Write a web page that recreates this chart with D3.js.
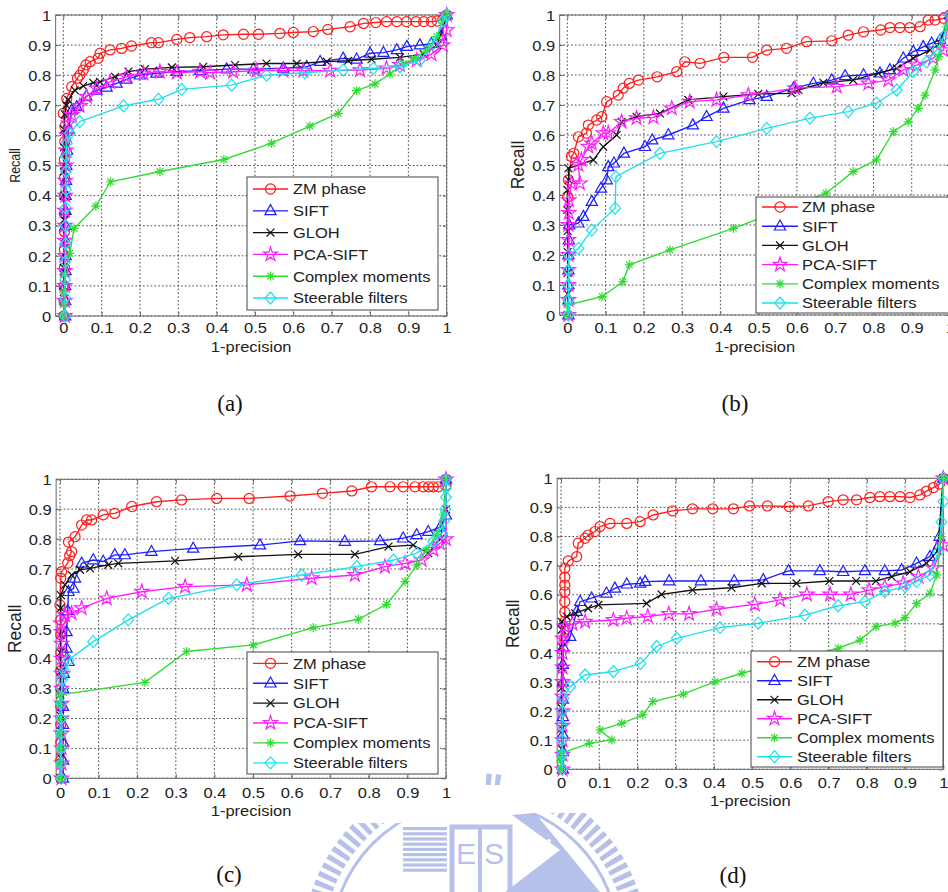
<!DOCTYPE html>
<html><head><meta charset="utf-8">
<script src="https://cdn.jsdelivr.net/npm/d3@7"></script>
<style>
html,body{margin:0;padding:0;background:#fff;}
svg{display:block;}
text{font-family:"Liberation Sans",Arial,sans-serif;fill:#222;}
</style></head><body>
<svg id="fig" width="948" height="892"></svg>
<script>
// ---------- series values: [1-precision, recall] ----------
// (a)
const zmA = [[0.002,0],[0.002,0.05],[0.002,0.1],[0.003,0.16],[0.003,0.22],[0.003,0.28],[0.003,0.34],[0.003,0.4],[0.003,0.46],[0.003,0.52],[0.004,0.58],[0.004,0.63],[0,0.673],[0.009,0.723],[0.022,0.762],[0.037,0.79],[0.043,0.8],[0.052,0.817],[0.059,0.834],[0.07,0.845],[0.091,0.856],[0.096,0.873],[0.122,0.884],[0.152,0.889],[0.178,0.897],[0.23,0.908],[0.248,0.908],[0.296,0.919],[0.33,0.925],[0.374,0.928],[0.417,0.934],[0.47,0.936],[0.509,0.936],[0.565,0.939],[0.6,0.942],[0.652,0.945],[0.69,0.952],[0.748,0.961],[0.783,0.972],[0.815,0.975],[0.843,0.978],[0.87,0.978],[0.895,0.978],[0.92,0.978],[0.94,0.978],[0.96,0.978],[0.975,0.98],[0.99,0.985],[1,1]];
const siftA = [[0.005,0],[0.005,0.05],[0.005,0.1],[0.006,0.15],[0.006,0.2],[0.006,0.25],[0.006,0.3],[0.006,0.35],[0.006,0.4],[0.007,0.45],[0.008,0.5],[0.01,0.55],[0.014,0.62],[0.022,0.684],[0.035,0.695],[0.06,0.73],[0.087,0.75],[0.113,0.76],[0.139,0.773],[0.165,0.786],[0.2,0.8],[0.243,0.806],[0.296,0.812],[0.357,0.815],[0.426,0.82],[0.496,0.82],[0.574,0.823],[0.635,0.828],[0.67,0.845],[0.73,0.856],[0.765,0.853],[0.8,0.873],[0.835,0.875],[0.87,0.884],[0.896,0.895],[0.93,0.9],[0.96,0.905],[0.985,0.93],[1,1]];
const glohA = [[0.001,0],[0.001,0.08],[0.001,0.16],[0.002,0.24],[0.002,0.32],[0.002,0.4],[0.002,0.48],[0.002,0.56],[0.002,0.62],[0.004,0.67],[0.008,0.7],[0.013,0.718],[0.03,0.75],[0.052,0.764],[0.078,0.775],[0.096,0.778],[0.135,0.795],[0.17,0.812],[0.213,0.82],[0.283,0.826],[0.365,0.828],[0.448,0.834],[0.53,0.839],[0.609,0.839],[0.687,0.845],[0.743,0.848],[0.804,0.853],[0.878,0.859],[0.94,0.87],[0.975,0.9],[1,1]];
const pcaA = [[0.004,0],[0.004,0.05],[0.004,0.1],[0.004,0.15],[0.004,0.2],[0.004,0.25],[0.004,0.3],[0.004,0.35],[0.005,0.4],[0.005,0.45],[0.006,0.5],[0.007,0.55],[0.009,0.6],[0.013,0.64],[0.022,0.668],[0.043,0.698],[0.061,0.729],[0.087,0.756],[0.122,0.778],[0.165,0.795],[0.209,0.806],[0.252,0.812],[0.296,0.808],[0.357,0.812],[0.383,0.808],[0.443,0.812],[0.504,0.815],[0.574,0.815],[0.626,0.815],[0.696,0.815],[0.774,0.817],[0.843,0.823],[0.878,0.834],[0.922,0.85],[0.96,0.87],[0.99,0.9],[1,0.95],[1,1]];
const cmA = [[0,0],[0.002,0.04],[0.002,0.08],[0.003,0.14],[0.017,0.208],[0.028,0.291],[0.085,0.365],[0.123,0.446],[0.252,0.48],[0.419,0.52],[0.543,0.574],[0.643,0.631],[0.717,0.673],[0.765,0.749],[0.813,0.771],[0.852,0.804],[0.887,0.839],[0.917,0.856],[0.948,0.884],[0.974,0.928],[0.991,0.983],[1,1]];
const sfA = [[0.005,0],[0.005,0.06],[0.005,0.12],[0.005,0.18],[0.006,0.24],[0.006,0.3],[0.006,0.36],[0.007,0.42],[0.007,0.48],[0.008,0.53],[0.009,0.574],[0.017,0.607],[0.043,0.646],[0.157,0.698],[0.248,0.72],[0.309,0.753],[0.439,0.767],[0.53,0.8],[0.63,0.808],[0.73,0.817],[0.809,0.823],[0.878,0.828],[0.93,0.85],[0.965,0.906],[0.99,0.98],[1,1]];
// (b)
const zmB = [[0.001,0.394],[0.003,0.45],[0.011,0.528],[0.017,0.539],[0.029,0.594],[0.05,0.606],[0.055,0.633],[0.077,0.65],[0.09,0.661],[0.103,0.711],[0.133,0.733],[0.146,0.756],[0.162,0.772],[0.186,0.783],[0.235,0.794],[0.286,0.811],[0.307,0.844],[0.347,0.839],[0.409,0.859],[0.484,0.859],[0.521,0.883],[0.573,0.889],[0.625,0.911],[0.691,0.914],[0.734,0.933],[0.774,0.944],[0.819,0.95],[0.843,0.958],[0.869,0.958],[0.895,0.958],[0.922,0.961],[0.943,0.983],[0.961,0.983],[0.983,0.989],[1,1]];
const siftB = [[0.003,0],[0.003,0.05],[0.003,0.1],[0.003,0.15],[0.003,0.2],[0.004,0.25],[0.005,0.3],[0.029,0.306],[0.042,0.328],[0.064,0.378],[0.088,0.422],[0.103,0.45],[0.107,0.494],[0.122,0.506],[0.148,0.539],[0.203,0.561],[0.222,0.583],[0.264,0.6],[0.328,0.633],[0.364,0.661],[0.408,0.689],[0.476,0.717],[0.521,0.728],[0.591,0.756],[0.643,0.772],[0.691,0.783],[0.726,0.797],[0.774,0.8],[0.817,0.806],[0.843,0.817],[0.878,0.856],[0.904,0.878],[0.93,0.894],[0.952,0.906],[0.974,0.917],[1,1]];
const glohB = [[0.001,0],[0.001,0.07],[0.001,0.14],[0.001,0.21],[0.001,0.28],[0,0.35],[0,0.417],[0.004,0.45],[0.003,0.489],[0.068,0.517],[0.094,0.561],[0.129,0.6],[0.142,0.644],[0.181,0.661],[0.242,0.672],[0.316,0.717],[0.408,0.728],[0.499,0.737],[0.586,0.739],[0.604,0.75],[0.669,0.774],[0.747,0.783],[0.813,0.806],[0.861,0.822],[0.904,0.856],[0.948,0.883],[0.974,0.906],[1,1]];
const pcaB = [[0.003,0],[0.003,0.05],[0.003,0.1],[0.003,0.15],[0.003,0.2],[0.003,0.25],[0.003,0.3],[0.004,0.34],[0.004,0.383],[0.011,0.439],[0.033,0.439],[0.029,0.5],[0.037,0.517],[0.055,0.561],[0.064,0.572],[0.094,0.606],[0.107,0.606],[0.142,0.644],[0.181,0.656],[0.225,0.659],[0.273,0.689],[0.32,0.711],[0.39,0.717],[0.473,0.733],[0.595,0.756],[0.704,0.761],[0.787,0.772],[0.839,0.783],[0.878,0.817],[0.913,0.833],[0.956,0.856],[0.983,0.883],[1,1]];
const cmB = [[0,0],[0,0.033],[0.091,0.061],[0.145,0.111],[0.162,0.167],[0.268,0.217],[0.434,0.289],[0.676,0.406],[0.747,0.478],[0.808,0.517],[0.852,0.611],[0.891,0.644],[0.917,0.689],[0.935,0.733],[0.961,0.817],[0.97,0.861],[0.99,0.96],[1,1]];
const sfB = [[0.003,0],[0.003,0.05],[0.003,0.1],[0.003,0.15],[0.004,0.2],[0.029,0.222],[0.064,0.283],[0.125,0.356],[0.127,0.461],[0.242,0.539],[0.39,0.578],[0.521,0.622],[0.634,0.656],[0.734,0.678],[0.808,0.706],[0.861,0.75],[0.904,0.811],[0.939,0.844],[0.965,0.883],[0.983,0.928],[1,1]];
// (c)
const zmC = [[0.002,0],[0.002,0.06],[0.002,0.12],[0.002,0.18],[0.002,0.24],[0.002,0.3],[0.002,0.36],[0.002,0.42],[0.002,0.48],[0.002,0.53],[0,0.58],[0.002,0.669],[0.004,0.691],[0.02,0.72],[0.025,0.745],[0.03,0.758],[0.022,0.79],[0.039,0.808],[0.056,0.847],[0.069,0.864],[0.082,0.864],[0.112,0.881],[0.142,0.886],[0.186,0.909],[0.25,0.925],[0.315,0.931],[0.406,0.936],[0.49,0.936],[0.596,0.944],[0.68,0.953],[0.756,0.961],[0.807,0.975],[0.855,0.975],[0.889,0.975],[0.92,0.975],[0.941,0.975],[0.955,0.975],[0.967,0.975],[0.98,0.975],[1,0.98],[1,1]];
const siftC = [[0.008,0],[0.008,0.06],[0.008,0.12],[0.008,0.18],[0.008,0.24],[0.008,0.3],[0.01,0.35],[0.022,0.39],[0.017,0.435],[0.017,0.49],[0.02,0.56],[0.022,0.624],[0.035,0.635],[0.039,0.669],[0.056,0.719],[0.086,0.73],[0.112,0.725],[0.142,0.747],[0.168,0.747],[0.237,0.758],[0.345,0.769],[0.518,0.78],[0.622,0.794],[0.738,0.792],[0.829,0.794],[0.889,0.803],[0.924,0.814],[0.954,0.825],[0.985,0.84],[1,0.88],[1,1]];
const glohC = [[0.001,0],[0.001,0.07],[0.001,0.14],[0.001,0.21],[0.001,0.28],[0.001,0.357],[0.001,0.42],[0.001,0.48],[0.002,0.569],[0.002,0.613],[0.013,0.647],[0.03,0.68],[0.052,0.697],[0.078,0.702],[0.125,0.714],[0.151,0.719],[0.298,0.727],[0.462,0.741],[0.617,0.749],[0.764,0.749],[0.851,0.775],[0.915,0.78],[0.954,0.753],[0.985,0.8],[1,0.9],[1,1]];
const pcaC = [[0.004,0],[0.004,0.05],[0.004,0.1],[0.004,0.15],[0.004,0.2],[0.004,0.25],[0.004,0.3],[0.004,0.35],[0.004,0.4],[0.004,0.45],[0.004,0.49],[0.002,0.518],[0.013,0.546],[0.03,0.552],[0.056,0.569],[0.121,0.602],[0.212,0.624],[0.324,0.641],[0.484,0.647],[0.652,0.669],[0.764,0.68],[0.842,0.708],[0.894,0.719],[0.937,0.73],[0.967,0.764],[0.984,0.786],[1,0.8],[1,1]];
const cmC = [[0,0],[0,0.05],[0,0.1],[0,0.15],[0,0.2],[0,0.25],[0,0.279],[0.22,0.321],[0.328,0.424],[0.501,0.446],[0.656,0.504],[0.773,0.532],[0.846,0.582],[0.894,0.658],[0.924,0.713],[0.95,0.764],[0.976,0.814],[0.993,0.881],[1,1]];
const sfC = [[0.003,0],[0.003,0.05],[0.003,0.1],[0.003,0.15],[0.003,0.2],[0.003,0.25],[0.004,0.3],[0.005,0.33],[0.013,0.357],[0.022,0.396],[0.086,0.457],[0.177,0.53],[0.281,0.602],[0.458,0.647],[0.626,0.68],[0.769,0.708],[0.864,0.73],[0.924,0.753],[0.967,0.792],[0.99,0.82],[0.995,0.86],[0.998,0.9],[1,0.94],[1,0.97],[1,1]];
// (d)
const zmD = [[0.01,0.45],[0.01,0.507],[0.01,0.54],[0.01,0.576],[0.01,0.61],[0.01,0.633],[0.01,0.66],[0.01,0.691],[0.019,0.716],[0.041,0.731],[0.045,0.777],[0.063,0.794],[0.071,0.805],[0.089,0.817],[0.102,0.834],[0.128,0.845],[0.172,0.845],[0.207,0.851],[0.241,0.874],[0.292,0.888],[0.344,0.895],[0.397,0.895],[0.451,0.895],[0.493,0.905],[0.54,0.905],[0.597,0.903],[0.647,0.905],[0.699,0.92],[0.738,0.926],[0.773,0.926],[0.808,0.934],[0.834,0.937],[0.86,0.937],[0.887,0.937],[0.913,0.934],[0.939,0.943],[0.956,0.956],[0.974,0.968],[0.99,0.98],[1,1]];
const siftD = [[0.005,0],[0.005,0.06],[0.005,0.12],[0.005,0.18],[0.005,0.24],[0.005,0.3],[0.005,0.36],[0.006,0.42],[0.024,0.456],[0.041,0.542],[0.05,0.576],[0.08,0.588],[0.119,0.605],[0.141,0.622],[0.172,0.636],[0.207,0.639],[0.22,0.645],[0.283,0.647],[0.366,0.647],[0.453,0.647],[0.529,0.651],[0.595,0.682],[0.677,0.682],[0.738,0.679],[0.795,0.682],[0.847,0.682],[0.891,0.685],[0.93,0.708],[0.965,0.731],[0.99,0.8],[1,1]];
const glohD = [[0.002,0],[0.002,0.07],[0.002,0.14],[0.002,0.21],[0.002,0.28],[0.002,0.35],[0.002,0.42],[0.002,0.48],[0.002,0.507],[0.015,0.525],[0.037,0.536],[0.071,0.553],[0.098,0.565],[0.224,0.57],[0.263,0.601],[0.344,0.616],[0.446,0.624],[0.525,0.639],[0.616,0.639],[0.702,0.647],[0.772,0.647],[0.824,0.647],[0.865,0.662],[0.913,0.679],[0.956,0.708],[0.985,0.75],[1,1]];
const pcaD = [[0.004,0],[0.004,0.05],[0.004,0.1],[0.004,0.15],[0.004,0.2],[0.004,0.25],[0.004,0.3],[0.004,0.35],[0.004,0.4],[0.004,0.45],[0.01,0.49],[0.03,0.5],[0.063,0.507],[0.137,0.513],[0.172,0.519],[0.227,0.525],[0.282,0.534],[0.335,0.534],[0.407,0.55],[0.507,0.567],[0.573,0.582],[0.643,0.601],[0.704,0.601],[0.758,0.601],[0.806,0.616],[0.847,0.628],[0.895,0.639],[0.935,0.662],[0.974,0.691],[1,0.77],[1,1]];
const cmD = [[0,0],[0,0.03],[0,0.055],[0.074,0.089],[0.133,0.101],[0.102,0.135],[0.159,0.158],[0.214,0.187],[0.24,0.233],[0.32,0.258],[0.403,0.301],[0.473,0.33],[0.725,0.416],[0.782,0.444],[0.824,0.49],[0.874,0.502],[0.9,0.521],[0.93,0.57],[0.965,0.605],[0.983,0.668],[0.995,0.8],[1,1]];
const sfD = [[0.003,0],[0.003,0.05],[0.003,0.1],[0.003,0.15],[0.003,0.2],[0.006,0.244],[0.024,0.284],[0.063,0.324],[0.137,0.336],[0.208,0.364],[0.25,0.422],[0.303,0.45],[0.416,0.487],[0.516,0.502],[0.638,0.53],[0.725,0.562],[0.795,0.576],[0.847,0.611],[0.9,0.628],[0.93,0.645],[0.965,0.668],[0.987,0.748],[0.995,0.85],[1,0.92],[1,1]];

// ---------- names, ticks, captions ----------
const seriesNames = ["ZM phase","SIFT","GLOH","PCA-SIFT","Complex moments","Steerable filters"];
const tickValues = [0,0.1,0.2,0.3,0.4,0.5,0.6,0.7,0.8,0.9,1];
const tickLabels = ["0","0.1","0.2","0.3","0.4","0.5","0.6","0.7","0.8","0.9","1"];
const panelCaptions = ["(a)","(b)","(c)","(d)"];
const xTitle = "1-precision";
const yTitle = "Recall";

// ---------- styling ----------
const seriesColors = ["#ff1c1c","#1e1eff","#111111","#ff1eff","#2fdc2f","#1fe0ea"];
const seriesMarkers = ["circle","triangle","times","star","asterisk","diamond"];
const markerPaths = {
  circle: d3.symbol(d3.symbolCircle, 80)(),
  triangle: "M0,-6.2L5.6,3.8L-5.6,3.8Z",
  times: "M-3.9,-3.9L3.9,3.9M-3.9,3.9L3.9,-3.9",
  star: d3.symbol(d3.symbolStar, 62)(),
  asterisk: "M-4.6,0H4.6M0,-4.6V4.6M-3.3,-3.3L3.3,3.3M-3.3,3.3L3.3,-3.3",
  diamond: "M0,-6L5.4,0L0,6L-5.4,0Z"
};
const SX = 1.1; // horizontal text stretch

const panels = [
  {series:[zmA,siftA,glohA,pcaA,cmA,sfA], x0:63.3, x1:446.7, xmin:-0.02, top:15, bottom:316, tickDy:17, xTitleY:352,
   yTitleX:15, yTitleSize:12.5,
   legend:{x:247,y:177,w:191,h:133,row0:189,step:21.8,l0:253,l1:288,tx:293}, cap:{x:230,y:411}},
  {series:[zmB,siftB,glohB,pcaB,cmB,sfB], x0:567.3, x1:950, xmin:-0.02, top:15, bottom:315, tickDy:18, xTitleY:352,
   yTitleX:517, yTitleSize:17.5,
   legend:{x:756,y:197,w:200,h:116,row0:207,step:19.2,l0:762,l1:798,tx:802}, cap:{x:735,y:411}},
  {series:[zmC,siftC,glohC,pcaC,cmC,sfC], x0:60, x1:446, xmin:-0.01, top:479.3, bottom:778.3, tickDy:20, xTitleY:816,
   yTitleX:14.5, yTitleSize:17.5,
   legend:{x:247,y:652,w:191,h:122,row0:663.3,step:19.9,l0:253,l1:288,tx:293}, cap:{x:229,y:882}},
  {series:[zmD,siftD,glohD,pcaD,cmD,sfD], x0:561, x1:943.3, xmin:-0.01, top:478.3, bottom:769.3, tickDy:19, xTitleY:806,
   yTitleX:512, yTitleSize:17.5,
   legend:{x:751,y:651,w:192,h:116,row0:661.7,step:19,l0:757,l1:792,tx:797}, cap:{x:733,y:883}}
];

const svg = d3.select("#fig");
svg.append("rect").attr("width",948).attr("height",892).attr("fill","#fff");

// ---------- faint emblem in the background ----------
const emb = "#b6c1ea";
const eg = svg.append("g");
eg.append("circle").attr("cx",475).attr("cy",945).attr("r",162).attr("fill","none")
  .attr("stroke",emb).attr("stroke-width",20).attr("stroke-dasharray","5 4");
eg.append("circle").attr("cx",475).attr("cy",945).attr("r",144).attr("fill","none")
  .attr("stroke",emb).attr("stroke-width",3);
for (let i = 0; i < 9; i++) {
  eg.append("rect").attr("x",403).attr("y",827 + i*5.2).attr("width",44).attr("height",3.2).attr("fill",emb);
}
eg.append("rect").attr("x",452).attr("y",827).attr("width",58).attr("height",70)
  .attr("fill","none").attr("stroke",emb).attr("stroke-width",5);
eg.append("line").attr("x1",480).attr("x2",480).attr("y1",827).attr("y2",892).attr("stroke",emb).attr("stroke-width",4);
eg.append("text").attr("x",466).attr("y",864).attr("text-anchor","middle").style("font-size","30px").style("fill",emb).text("E");
eg.append("text").attr("x",494).attr("y",864).attr("text-anchor","middle").style("font-size","30px").style("fill",emb).text("S");
eg.append("path").attr("d","M512,815L535,813L600,892L505,892L560,850Z").attr("fill",emb);
eg.append("text").attr("transform","translate(541,850) rotate(40)").attr("text-anchor","middle")
  .style("font-size","20px").style("fill","#fff").text("A");

// white sheets of the four figures cover most of the emblem
[[0,0,482,823],[503,0,445,813],[482,0,21,745],[482,785,21,28]].forEach(r => {
  svg.append("rect").attr("x",r[0]).attr("y",r[1]).attr("width",r[2]).attr("height",r[3]).attr("fill","#fff");
});

function stretchText(g, x, y, str, size, anchor) {
  return g.append("text")
    .attr("transform", `translate(${x},${y}) scale(${SX},1)`)
    .attr("text-anchor", anchor || "start")
    .style("font-size", size + "px")
    .text(str);
}

panels.forEach((p, pi) => {
  const x = d3.scaleLinear().domain([0,1]).range([p.x0, p.x1]);
  const y = d3.scaleLinear().domain([0,1]).range([p.bottom, p.top]);
  const left = x(p.xmin), right = x(1);
  const g = svg.append("g");

  g.append("rect").attr("x",left).attr("y",p.top).attr("width",right-left).attr("height",p.bottom-p.top).attr("fill","#fff");

  // dotted grid
  const grid = g.append("g").attr("stroke","#333").attr("stroke-width",0.9).attr("stroke-dasharray","1.6,2.2");
  tickValues.forEach(v => {
    grid.append("line").attr("x1",x(v)).attr("x2",x(v)).attr("y1",p.top).attr("y2",p.bottom);
    grid.append("line").attr("x1",left).attr("x2",right).attr("y1",y(v)).attr("y2",y(v));
  });

  // axes with inward ticks
  const fmt = (d,i) => tickLabels[i];
  const axB = g.append("g").attr("transform",`translate(0,${p.bottom})`)
    .call(d3.axisBottom(x).tickValues(tickValues).tickFormat(fmt).tickSize(-4).tickSizeOuter(0));
  const axL = g.append("g").attr("transform",`translate(${left},0)`)
    .call(d3.axisLeft(y).tickValues(tickValues).tickFormat(fmt).tickSize(-4).tickSizeOuter(0));
  const axT = g.append("g").attr("transform",`translate(0,${p.top})`)
    .call(d3.axisTop(x).tickValues(tickValues).tickFormat("").tickSize(-4).tickSizeOuter(0));
  const axR = g.append("g").attr("transform",`translate(${right},0)`)
    .call(d3.axisRight(y).tickValues(tickValues).tickFormat("").tickSize(-4).tickSizeOuter(0));
  [axB,axL,axT,axR].forEach(a => {
    a.select(".domain").remove();
    a.attr("color","#6a6a6a");
    a.selectAll("line").attr("stroke-width",1);
  });
  axB.selectAll("text").attr("y",0).attr("dy",null)
    .attr("transform",`translate(0,${p.tickDy}) scale(${SX},1)`)
    .style("font-size","15px").style("fill","#222").attr("font-family",null);
  axL.selectAll("text").attr("x",0).attr("dy","0.35em")
    .attr("transform",`translate(-4.5,0) scale(${SX},1)`)
    .style("font-size","15px").style("fill","#222").attr("font-family",null);

  // axes box
  g.append("rect").attr("x",left).attr("y",p.top).attr("width",right-left).attr("height",p.bottom-p.top)
    .attr("fill","none").attr("stroke","#6a6a6a").attr("stroke-width",1);

  // curves and markers
  const line = d3.line().x(d => x(d[0])).y(d => y(d[1]));
  p.series.forEach((s, si) => {
    const sg = g.append("g").attr("stroke",seriesColors[si]).attr("fill","none");
    sg.append("path").attr("d",line(s)).attr("stroke-width",1.35);
    sg.selectAll("path.m").data(s).join("path").attr("class","m")
      .attr("d", markerPaths[seriesMarkers[si]])
      .attr("transform", d => `translate(${x(d[0])},${y(d[1])})`)
      .attr("stroke-width",1.2);
  });

  // titles
  stretchText(g, (left+right)/2, p.xTitleY, xTitle, 15, "middle");
  g.append("text")
    .attr("transform",`translate(${p.yTitleX},${(p.top+p.bottom)/2}) rotate(-90) scale(1,${SX})`)
    .attr("text-anchor","middle").attr("dy","0.35em")
    .style("font-size", p.yTitleSize + "px").text(yTitle);

  // legend
  const L = p.legend;
  const lg = g.append("g");
  lg.append("rect").attr("x",L.x).attr("y",L.y).attr("width",L.w).attr("height",L.h)
    .attr("fill","#fff").attr("stroke","#444").attr("stroke-width",1);
  seriesNames.forEach((name, si) => {
    const ry = L.row0 + si*L.step;
    const row = lg.append("g").attr("stroke",seriesColors[si]).attr("fill","none");
    row.append("line").attr("x1",L.l0).attr("x2",L.l1).attr("y1",ry).attr("y2",ry).attr("stroke-width",1.35);
    row.append("path").attr("d",markerPaths[seriesMarkers[si]])
      .attr("transform",`translate(${(L.l0+L.l1)/2},${ry})`).attr("stroke-width",1.2);
    stretchText(lg, L.tx, ry + 5.3, name, 15, "start");
  });

  // caption
  g.append("text").attr("x",p.cap.x).attr("y",p.cap.y).attr("text-anchor","middle")
    .style("font-family","'Liberation Serif','Times New Roman',serif").style("font-size","23px").style("fill","#111")
    .text(panelCaptions[pi]);
});
</script>
</body></html>
